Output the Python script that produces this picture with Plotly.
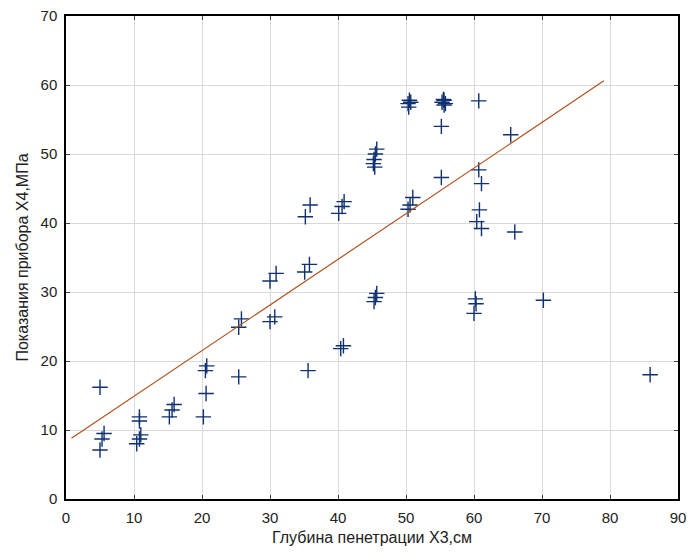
import plotly.graph_objects as go

# Depth of penetration X3, cm
x3 = [5.0, 5.6, 5.3, 5.0,
      10.8, 10.8, 11.0, 10.8, 10.4,
      15.9, 15.6, 15.2,
      20.2, 20.6, 20.7, 20.5,
      25.4, 25.4, 25.8,
      30.0, 30.7, 30.0, 30.9,
      35.1, 35.8, 35.6, 35.2, 35.9,
      40.1, 40.6, 40.9, 40.4, 40.8,
      45.3, 45.5, 45.7,
      45.7, 45.5, 45.3, 45.2, 45.4,
      50.3, 50.6, 51.0,
      50.5, 50.3, 50.7, 50.4,
      55.6, 55.3, 55.8, 55.5, 55.6,
      55.2, 55.2,
      60.7, 65.4,
      60.7, 61.1, 60.8, 60.4, 61.1,
      66.0,
      60.2, 60.3, 60.0,
      70.2, 85.9]

# Instrument readings X4, MPa
x4 = [16.2, 9.5, 8.7, 7.1,
      11.9, 11.3, 9.3, 8.7, 8.0,
      13.7, 12.9, 11.9,
      11.9, 15.3, 19.3, 18.6,
      17.7, 24.9, 26.1,
      25.7, 26.4, 31.6, 32.7,
      32.9, 34.0, 18.6, 40.9, 42.6,
      41.4, 42.4, 43.1, 21.8, 22.2,
      28.6, 29.2, 29.8,
      50.7, 50.0, 49.2, 48.6, 48.1,
      42.0, 42.6, 43.7,
      57.8, 57.3, 57.5, 56.8,
      57.8, 57.5, 57.3, 57.9, 57.1,
      54.0, 46.6,
      57.7, 52.8,
      47.7, 45.7, 41.9, 40.2, 39.2,
      38.7,
      29.0, 28.3, 26.9,
      28.8, 18.0]

# Regression line endpoints
fit_x = [0.8, 79.1]
fit_y = [8.8, 60.6]

x_ticks = [0, 10, 20, 30, 40, 50, 60, 70, 80, 90]
y_ticks = [0, 10, 20, 30, 40, 50, 60, 70]

FONT = "Liberation Sans, Arial, sans-serif"

fig = go.Figure()
fig.add_trace(go.Scatter(
    x=x3, y=x4, mode="markers",
    marker=dict(symbol="cross-thin", size=11,
                line=dict(color="#0f3170", width=1.4), color="#0f3170"),
    showlegend=False, hoverinfo="x+y"))
fig.add_trace(go.Scatter(
    x=fit_x, y=fit_y, mode="lines",
    line=dict(color="#b0521e", width=1.2),
    showlegend=False, hoverinfo="skip"))

axis_common = dict(
    showline=True, linecolor="black", linewidth=1.5, mirror="ticks",
    ticks="inside", ticklen=4, tickcolor="#444", tickwidth=1,
    showgrid=True, gridcolor="#d9d9d9", gridwidth=1,
    zeroline=False, automargin=False, ticklabeloverflow="allow",
    tickfont=dict(family=FONT, size=15, color="#222"),
)

fig.update_layout(
    width=691, height=560,
    margin=dict(l=66, r=13, t=16, b=61),
    paper_bgcolor="white", plot_bgcolor="white",
    font=dict(family=FONT, color="#222"),
    xaxis=dict(range=[0, 90], tickvals=x_ticks, ticklabelstandoff=4,
               title=dict(text="Глубина пенетрации X3,см",
                          font=dict(family=FONT, size=16, color="#222"), standoff=7),
               **axis_common),
    yaxis=dict(range=[0, 70], tickvals=y_ticks, ticklabelstandoff=4,
               title=dict(text="Показания прибора X4,МПа",
                          font=dict(family=FONT, size=16, color="#222"), standoff=8),
               **axis_common),
)

# remove the default 8 px page margin so the figure sits at the window's corner
fig.write_html("out.html",
               config={"displayModeBar": False},
               post_script="document.body.style.margin='0';document.body.style.overflow='hidden';")
